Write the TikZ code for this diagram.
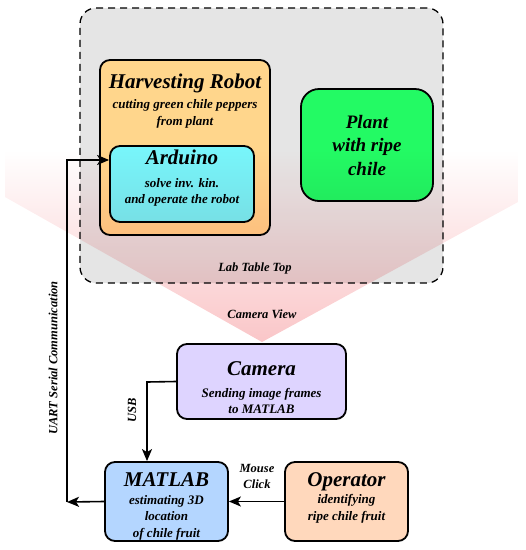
\documentclass[tikz,border=0pt]{standalone}
\usepackage{fontspec}
\setmainfont{Liberation Serif}
\usetikzlibrary{arrows.meta, positioning}

\definecolor{tablegray}{RGB}{229,229,229}
\definecolor{robotorange}{RGB}{255,214,140}
\definecolor{arduinocyan}{RGB}{120,245,250}
\definecolor{plantgreen}{RGB}{35,250,100}
\definecolor{cameraviolet}{RGB}{222,212,255}
\definecolor{matlabblue}{RGB}{180,214,255}
\definecolor{operatorpeach}{RGB}{255,216,188}
\definecolor{conepink}{RGB}{250,198,200}
\newcommand{\ttlsize}{\fontsize{21}{24}\selectfont}

\begin{document}
\begin{tikzpicture}[
    x=1pt, y=-1pt,
    every node/.style={font=\bfseries\itshape\fontsize{13}{16.5}\selectfont},
    blk/.style={draw=black, line width=1.8pt, rounded corners=10pt, inner sep=0pt, align=center},
    lbl/.style={font=\bfseries\itshape\fontsize{12.5}{16}\selectfont, align=center},
    arr/.style={-{Stealth[length=12pt, width=10pt, inset=3pt]}, line width=1.6pt}
]
\useasboundingbox (0,0) rectangle (526,550);
% Lab table with robot and plant
\node[draw=black, line width=1.3pt, dash pattern=on 7pt off 5pt, rounded corners=16pt, fill=tablegray,
      minimum width=363pt, minimum height=275pt] (table) at (261.5,145.5) {};
\node[blk, fill=robotorange, minimum width=170pt, minimum height=175pt] (robot) at (185,147.5) {};
\node[align=center, below=11pt of robot.north] (robottext) {{\ttlsize Harvesting Robot}\\[4pt]cutting green chile peppers\\from plant};
\node[blk, fill=arduinocyan, minimum width=144pt, minimum height=76pt] (arduino) at (182,184)
    {{\ttlsize Arduino}\\[6pt]solve inv. kin.\\and operate the robot\\[-2pt]};
\node[blk, fill=plantgreen, rounded corners=18pt, minimum width=132pt, minimum height=112pt,
      font=\bfseries\itshape\fontsize{19}{23.5}\selectfont] (plant) at (367,145) {Plant\\with ripe\\chile};
% Camera view cone
\shade[top color=white, middle color=conepink, bottom color=conepink, blend mode=multiply]
    (5,150) -- (5,197) -- (262,342) -- (518,202) -- (518,150) -- cycle;
\node[lbl] (tabletop) at (255,268) {Lab Table Top};
\node[lbl] (camview) at (262,314) {Camera View};
% Camera, MATLAB, operator
\node[blk, fill=cameraviolet, minimum width=169pt, minimum height=75pt] (camera) at (261.5,381.5)
    {{\ttlsize\rule{0pt}{27pt}Camera}\\[5pt]Sending image frames\\to MATLAB};
\node[blk, fill=matlabblue, minimum width=123pt, minimum height=79pt] (matlab) at (166.5,501.5)
    {{\ttlsize\rule{0pt}{24pt}MATLAB}\\[1pt]estimating 3D\\location\\of chile fruit};
\node[blk, fill=operatorpeach, minimum width=123pt, minimum height=79pt] (operator) at (346.5,501.5)
    {{\ttlsize Operator}\\[1pt]identifying\\ripe chile fruit\\[-6pt]};
% Connections
\coordinate (usbturn) at (147,382);
\coordinate (uartturn) at (67,502);
\draw[arr] (operator.west) -- (matlab.east);
\draw[arr] (camera.west) -- (usbturn) -- (usbturn |- matlab.north);
\draw[arr] (matlab.west) -- (uartturn);
\draw[arr] (uartturn) |- ([yshift=24pt]arduino.west);
\node[lbl] (mouse) at (257,476) {Mouse\\Click};
\node[lbl, rotate=90] (usb) at (132,410) {USB};
\node[lbl, rotate=90] (uart) at (53,358) {UART Serial Communication};
\end{tikzpicture}
\end{document}
